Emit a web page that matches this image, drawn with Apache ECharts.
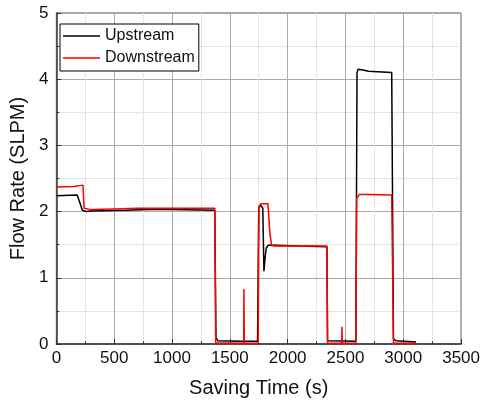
<!DOCTYPE html>
<html>
<head>
<meta charset="utf-8">
<script src="https://cdn.jsdelivr.net/npm/echarts@6/dist/echarts.min.js"></script>
<style>
html, body { margin: 0; padding: 0; background: #fff; }
#chart { width: 483px; height: 405px; }
</style>
</head>
<body>
<div id="chart"></div>
<script>
// upstream flow (black)
var upTime = [0, 180, 195, 210, 225, 260, 300, 600, 800, 1000, 1370, 1380, 1395, 1600, 1740,
    1750, 1765, 1775, 1785, 1795, 1805, 1815, 1830, 1900, 2100, 2340, 2345, 2590,
    2600, 2610, 2650, 2700, 2900, 2910, 2915, 2935, 3110];
var upFlow = [2.24, 2.25, 2.22, 2.10, 2.02, 2.00, 2.01, 2.02, 2.03, 2.03, 2.02, 0.10, 0.05, 0.04, 0.04,
    2.05, 2.10, 2.12, 2.05, 1.10, 1.30, 1.45, 1.49, 1.49, 1.48, 1.47, 0.05, 0.04,
    4.10, 4.15, 4.14, 4.12, 4.10, 4.10, 0.08, 0.05, 0.03];

// downstream flow (red)
var downTime = [0, 150, 230, 240, 300, 500, 700, 1000, 1370, 1378, 1620, 1622, 1625, 1745,
    1752, 1770, 1830, 1845, 1860, 1880, 2340, 2345, 2468, 2470, 2473, 2590,
    2597, 2620, 2700, 2900, 2910, 2915, 3110];
var downFlow = [2.37, 2.38, 2.40, 2.05, 2.03, 2.04, 2.05, 2.05, 2.05, 0.02, 0.01, 0.83, 0.01, 0.01,
    2.08, 2.12, 2.12, 1.70, 1.50, 1.48, 1.48, 0.01, 0.01, 0.26, 0.01, 0.01,
    2.20, 2.26, 2.26, 2.25, 2.24, 0.01, 0.01];

function pairs(t, v) {
    var out = [];
    for (var i = 0; i < t.length; i++) {
        out.push([t[i], v[i]]);
    }
    return out;
}

var chart = echarts.init(document.getElementById('chart'));
var font = 'Liberation Sans, Arial, sans-serif';
var option = {
    animation: false,
    backgroundColor: '#fff',
    grid: {
        left: 53, top: 13, right: 18, bottom: 61,
        show: true, borderColor: '#555', borderWidth: 1
    },
    legend: {
        orient: 'vertical',
        left: 60, top: 24,
        padding: [3, 4, 4, 3],
        icon: 'rect',
        itemWidth: 37, itemHeight: 1.5, itemGap: 4,
        borderColor: '#000', borderWidth: 1,
        backgroundColor: '#fff',
        textStyle: { fontFamily: font, fontSize: 16, color: '#111', lineHeight: 18 },
        data: ['Upstream', 'Downstream']
    },
    xAxis: {
        type: 'value',
        min: 0, max: 3500, interval: 500,
        name: 'Saving Time (s)',
        nameLocation: 'middle', nameGap: 34,
        nameTextStyle: { fontFamily: font, fontSize: 20, color: '#111' },
        axisLine: { lineStyle: { color: '#333', width: 1.5 } },
        axisTick: { inside: true, length: 5, lineStyle: { color: '#333' } },
        minorTick: { show: true, splitNumber: 2, length: 3, lineStyle: { color: '#333' } },
        axisLabel: {
            fontFamily: font, fontSize: 17, color: '#111', margin: 6,
            formatter: function(value) {
                return String(value);
            }
        },
        splitLine: { show: true, lineStyle: { color: '#aaa', width: 1 } },
        minorSplitLine: { show: true, lineStyle: { color: '#ccc', type: 'dotted' } }
    },
    yAxis: {
        type: 'value',
        min: 0, max: 5, interval: 1,
        name: 'Flow Rate (SLPM)',
        nameLocation: 'middle', nameGap: 24,
        nameTextStyle: { fontFamily: font, fontSize: 20, color: '#111' },
        axisLine: { show: true, lineStyle: { color: '#333', width: 1.5 } },
        axisTick: { show: true, inside: true, length: 5, lineStyle: { color: '#333' } },
        minorTick: { show: true, splitNumber: 2, length: 3, lineStyle: { color: '#333' } },
        axisLabel: { fontFamily: font, fontSize: 17, color: '#111', margin: 8 },
        splitLine: { show: true, lineStyle: { color: '#aaa', width: 1 } },
        minorSplitLine: { show: true, lineStyle: { color: '#ccc', type: 'dotted' } }
    },
    series: [{
            name: 'Upstream',
            type: 'line',
            data: pairs(upTime, upFlow),
            color: '#000',
            symbol: 'none',
            lineStyle: { width: 1.5 }
        },
        {
            name: 'Downstream',
            type: 'line',
            data: pairs(downTime, downFlow),
            color: '#f00',
            symbol: 'none',
            lineStyle: { width: 1.5 }
        }
    ]
};
chart.setOption(option);
</script>
</body>
</html>
